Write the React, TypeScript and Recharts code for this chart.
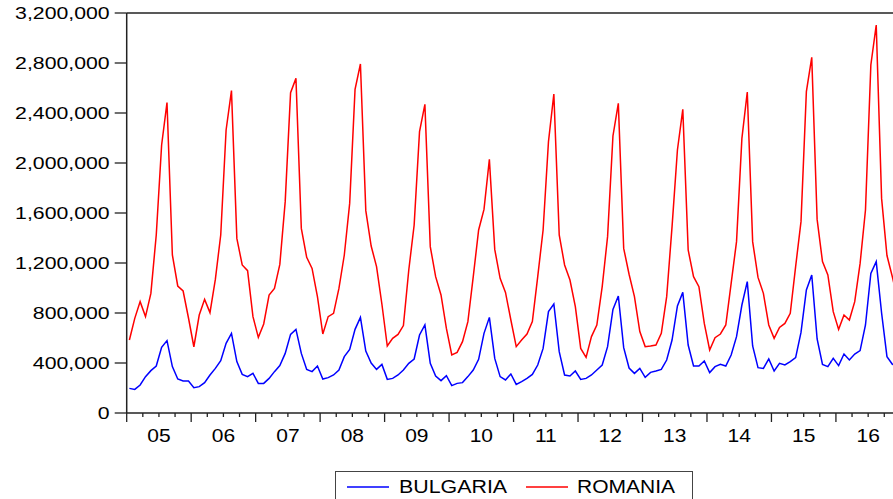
import { LineChart, Line, XAxis, YAxis, ReferenceLine, Legend } from "recharts";

// monthly, Jan 2005 .. Dec 2016
const YEAR_LABELS = ["05", "06", "07", "08", "09", "10", "11", "12", "13", "14", "15", "16"];

const BULGARIA = [
  197000, 189000, 224000, 291000, 339000, 376000, 525000, 579000, 371000, 272000, 256000, 256000,
  203000, 211000, 243000, 304000, 357000, 419000, 557000, 637000, 411000, 309000, 291000, 317000,
  237000, 237000, 277000, 331000, 379000, 477000, 629000, 669000, 477000, 349000, 331000, 376000,
  272000, 283000, 304000, 344000, 451000, 509000, 669000, 765000, 496000, 400000, 349000, 389000,
  269000, 277000, 304000, 344000, 397000, 432000, 624000, 704000, 397000, 296000, 259000, 299000,
  219000, 237000, 243000, 291000, 344000, 429000, 637000, 765000, 437000, 291000, 264000, 312000,
  229000, 251000, 277000, 309000, 384000, 517000, 811000, 872000, 491000, 304000, 296000, 336000,
  269000, 277000, 304000, 344000, 384000, 531000, 829000, 936000, 523000, 360000, 317000, 357000,
  285000, 325000, 336000, 349000, 424000, 584000, 856000, 965000, 544000, 376000, 376000, 416000,
  323000, 371000, 389000, 376000, 464000, 611000, 864000, 1051000, 536000, 363000, 357000, 432000,
  336000, 397000, 384000, 411000, 443000, 645000, 984000, 1104000, 592000, 389000, 371000, 437000,
  379000, 472000, 424000, 472000, 499000, 704000, 1117000, 1211000, 800000, 451000, 390000, 380000,
];

const ROMANIA = [
  584000, 757000, 891000, 771000, 957000, 1424000, 2144000, 2483000, 1264000, 1016000, 976000, 760000,
  530000, 784000, 909000, 803000, 1069000, 1424000, 2264000, 2579000, 1397000, 1184000, 1139000, 771000,
  605000, 712000, 944000, 997000, 1189000, 1691000, 2563000, 2677000, 1477000, 1245000, 1157000, 931000,
  632000, 771000, 797000, 997000, 1264000, 1677000, 2589000, 2792000, 1619000, 1336000, 1171000, 870000,
  536000, 597000, 629000, 699000, 1144000, 1504000, 2251000, 2469000, 1331000, 1091000, 944000, 677000,
  464000, 485000, 571000, 731000, 1091000, 1464000, 1629000, 2029000, 1309000, 1077000, 965000, 744000,
  531000, 584000, 632000, 731000, 1091000, 1464000, 2171000, 2552000, 1424000, 1184000, 1064000, 851000,
  517000, 445000, 611000, 704000, 1011000, 1411000, 2216000, 2477000, 1317000, 1110000, 931000, 651000,
  531000, 536000, 544000, 637000, 931000, 1491000, 2104000, 2429000, 1304000, 1091000, 1011000, 717000,
  504000, 603000, 632000, 704000, 1037000, 1371000, 2197000, 2568000, 1371000, 1085000, 957000, 704000,
  597000, 685000, 717000, 797000, 1171000, 1531000, 2571000, 2845000, 1549000, 1211000, 1104000, 811000,
  669000, 784000, 744000, 891000, 1197000, 1624000, 2784000, 3104000, 1717000, 1260000, 1090000, 900000,
];

const Y_TICKS = [0, 400000, 800000, 1200000, 1600000, 2000000, 2400000, 2800000, 3200000];

const data = BULGARIA.map((b, i) => ({ x: i + 0.5, bulgaria: b, romania: ROMANIA[i] }));
// quarter ticks, every 3 months
const quarterTicks = Array.from({ length: 49 }, (_, i) => i * 3);

const FONT = "'Liberation Sans', Arial, sans-serif";
const AXIS = "#222";

const YTick = ({ x, y, payload }: any) => (
  <text
    transform={`translate(${x},${y}) scale(1.33,1)`}
    textAnchor="end"
    dominantBaseline="central"
    fontSize={16}
    fontFamily={FONT}
    fill="#000"
  >
    {payload.value.toLocaleString("en-US")}
  </text>
);

const XTick = ({ x, y, payload }: any) => {
  const v = payload.value;
  const major = v % 12 === 0;
  const label = v % 12 === 6 ? YEAR_LABELS[(v - 6) / 12] : null;
  return (
    <g>
      <line x1={x} x2={x} y1={y} y2={y + (major ? 9 : 4)} stroke={AXIS} strokeWidth={1.3} />
      {label && (
        <text
          transform={`translate(${x},${y + 29}) scale(1.13,1)`}
          textAnchor="middle"
          fontSize={18.6}
          fontFamily={FONT}
          fill="#000"
        >
          {label}
        </text>
      )}
    </g>
  );
};

const renderLegend = () => (
  <svg width={358} height={30} style={{ display: "block" }}>
    <rect x={0.5} y={0.5} width={357} height={40} fill="#fff" stroke="#444" strokeWidth={1} />
    <line x1={12} x2={54} y1={16} y2={16} stroke="#0000ff" strokeWidth={1.5} />
    <text transform="translate(64,22) scale(1.15,1)" fontSize={18.6} fontFamily={FONT}>
      BULGARIA
    </text>
    <line x1={191} x2={233} y1={16} y2={16} stroke="#ff0000" strokeWidth={1.5} />
    <text transform="translate(242,22) scale(1.13,1)" fontSize={18.6} fontFamily={FONT}>
      ROMANIA
    </text>
  </svg>
);

export default function App() {
  return (
    <div
      style={{
        position: "absolute",
        left: 0,
        top: 0,
        width: 893,
        height: 499,
        overflow: "hidden",
        background: "#fff",
      }}
    >
      <LineChart
        width={920}
        height={499}
        data={data}
        margin={{ top: 13, right: 19.6, bottom: 46, left: 0 }}
      >
        <XAxis
          type="number"
          dataKey="x"
          domain={[0, 144]}
          ticks={quarterTicks}
          interval={0}
          tick={<XTick />}
          tickLine={false}
          tickSize={0}
          tickMargin={0}
          height={40}
          axisLine={{ stroke: AXIS, strokeWidth: 1.5 }}
        />
        <YAxis
          type="number"
          domain={[0, 3200000]}
          ticks={Y_TICKS}
          interval={0}
          width={126.7}
          tick={<YTick />}
          tickSize={12}
          tickMargin={5}
          tickLine={{ stroke: AXIS, strokeWidth: 1.3 }}
          axisLine={{ stroke: AXIS, strokeWidth: 1.5 }}
        />
        <ReferenceLine y={3200000} stroke={AXIS} strokeWidth={1.5} />
        <Line
          type="linear"
          dataKey="bulgaria"
          name="BULGARIA"
          stroke="#0000ff"
          strokeWidth={1.5}
          dot={false}
          isAnimationActive={false}
        />
        <Line
          type="linear"
          dataKey="romania"
          name="ROMANIA"
          stroke="#ff0000"
          strokeWidth={1.5}
          dot={false}
          isAnimationActive={false}
        />
        <Legend
          layout="horizontal"
          verticalAlign="middle"
          align="center"
          content={renderLegend}
          wrapperStyle={{ left: 335, top: 471, width: 358, height: 30 }}
        />
      </LineChart>
    </div>
  );
}
